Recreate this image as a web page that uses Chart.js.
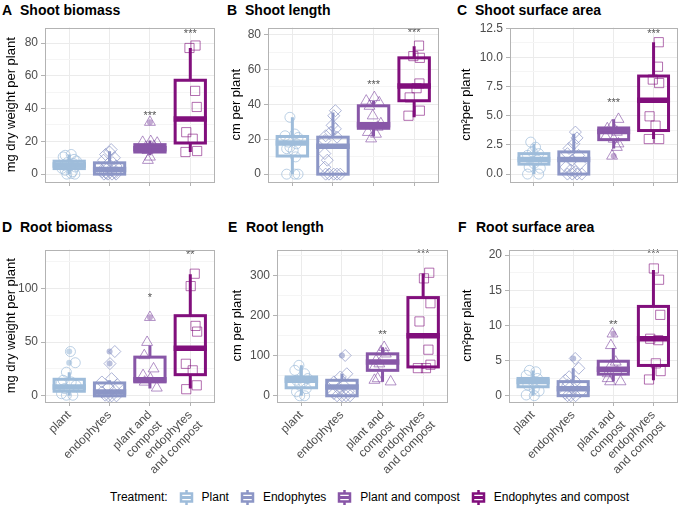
<!DOCTYPE html>
<html>
<head>
<meta charset="utf-8">
<script src="https://cdn.jsdelivr.net/npm/chart.js@4.4.0/dist/chart.umd.min.js"></script>
<style>
body { margin: 0; background: #fff; font-family: "Liberation Sans", Arial, sans-serif; }
#wrap { position: relative; width: 685px; height: 509px; overflow: hidden; }
.panel { position: absolute; }
.tag, .ttl { position: absolute; font-weight: bold; font-size: 14px; line-height: 16px; color: #000; white-space: nowrap; }
#legend { position: absolute; top: 488px; left: 110px; height: 18px; display: flex; align-items: center; font-size: 12px; color: #000; white-space: nowrap; }
#legend .item { display: flex; align-items: center; margin-left: 10px; }
#legend canvas { margin-right: 7px; }
</style>
</head>
<body>
<div id="wrap"></div>
<script>
// treatments
var treatments = ['plant', 'endophytes', 'plant and compost', 'endophytes and compost'];
var tickNames = ['plant', 'endophytes', ['plant and', 'compost'], ['endophytes', 'and compost']];
var legendNames = ['Plant', 'Endophytes', 'Plant and compost', 'Endophytes and compost'];

// A - shoot biomass (mg dry weight per plant)
var shootBiomassVals = [
    [12, 11.5, 10.5, 9, 8, 7, 6.5, 5.5, 5, 4.4, 3.5, 2.4, 1.5, 0.4, 0, 0],
    [15, 13.5, 12, 10, 8.5, 7, 6, 5, 4, 3, 2.5, 1.5, 1, 0.5, 0, 0, 0, 0],
    [31.7, 20, 19.5, 19, 17, 16.5, 14.5, 10.5, 8.5],
    [77, 78.5, 50.8, 41, 25.6, 21.6, 13.5, 14.1]
];
var shootBiomassJit = [
    [0.05, -0.1, -0.15, 0.12, 0.18, -0.05, 0.1, -0.12, 0.02, 0.15, -0.18, -0.1, 0.08, 0.05, -0.06, 0.14],
    [0.04, 0, -0.1, 0.12, -0.15, 0.08, -0.05, 0.16, -0.12, 0.1, 0.02, -0.18, 0.14, -0.08, -0.14, -0.04, 0.06, 0.16],
    [0, 0.02, -0.18, 0.18, 0.1, -0.1, -0.06, 0, -0.05],
    [-0.02, 0.13, 0.12, 0.16, -0.1, 0.06, -0.12, 0.17]
];
var shootBiomassBox = [[0, 3.4, 5.5, 7.9, 12], [0, 0, 2.8, 6.9, 14], [11.5, 13.5, 15.5, 18, 20.5], [13.5, 19, 33.7, 57.3, 77]];
var shootBiomassOut = [[], [], [31.7], []];
var shootBiomassSig = ['', '', '***', '***'];
var shootBiomassSigY = [null, null, 36.5, 87];
var shootBiomassTicks = [0, 20, 40, 60, 80];
var shootBiomassMinor = [10, 30, 50, 70];

// B - shoot length (cm per plant)
var shootLengthVals = [
    [32.6, 22, 23, 21, 18.4, 17.4, 14.6, 13.6, 9.9, 15.5, 0, 0, 0],
    [36.4, 33.5, 28, 26, 24, 22, 21.2, 19.3, 11.8, 8, 4, 0, 0, 0, 0, 0],
    [42, 44, 41, 39, 33.5, 29, 27, 24, 23, 20.3],
    [73.7, 67.7, 66.7, 52, 49.3, 44, 36.4, 33.5]
];
var shootLengthJit = [
    [-0.06, -0.18, 0.06, 0.14, -0.1, 0.1, -0.14, 0.02, 0.08, -0.06, -0.14, 0.06, 0.14],
    [0.06, 0.02, -0.02, 0.06, -0.06, -0.18, 0.1, -0.2, -0.2, -0.14, -0.2, -0.1, 0.02, 0.1, 0.18, -0.18],
    [-0.18, 0.02, 0.14, -0.1, -0.02, 0.18, 0.1, -0.14, 0.06, -0.06],
    [0.12, -0.02, 0.14, 0.13, 0.06, -0.11, 0.14, -0.14]
];
var shootLengthBox = [[0, 10.4, 17.8, 21.6, 32.6], [0, 0, 16, 21.2, 35.4], [21.6, 26.3, 28.4, 39.2, 42], [32.6, 42.1, 50.6, 66.7, 73.4]];
var shootLengthOut = [[], [], [], []];
var shootLengthSig = ['', '', '***', '***'];
var shootLengthSigY = [null, null, 52.5, 82];
var shootLengthTicks = [0, 20, 40, 60, 80];
var shootLengthMinor = [10, 30, 50, 70];

// C - shoot surface area (cm2 per plant)
var shootAreaVals = [
    [2.74, 2.3, 1.9, 1.75, 1.6, 1.2, 0.9, 0.6, 0.5, 0, 0],
    [3.6, 3.1, 2.6, 2.2, 1.75, 1.6, 1.2, 0.9, 0.6, 0.35, 0.2, 0, 0, 0, 0],
    [4.7, 4.15, 3.9, 3.6, 3.2, 3.0, 2.6, 2.3, 1.55],
    [11.3, 9.2, 8.1, 7.8, 4.95, 4.15, 3.0, 3.0]
];
var shootAreaJit = [
    [-0.08, 0.04, -0.04, 0.12, -0.16, 0.08, 0, -0.12, 0.16, -0.16, 0.12],
    [0.04, 0.08, 0, -0.12, -0.16, 0.12, -0.04, 0.16, -0.2, -0.08, 0.04, -0.16, -0.04, 0.08, 0.2],
    [0.12, -0.04, -0.16, 0.08, -0.2, 0, 0.12, 0.08, -0.04],
    [0.13, 0.11, -0.02, 0.14, -0.1, 0.05, -0.12, 0.14]
];
var shootAreaBox = [[0, 0.85, 1.25, 1.75, 2.6], [0, 0, 1.25, 1.9, 3.45], [2.2, 2.95, 3.65, 3.95, 4.7], [3.0, 3.73, 6.33, 8.4, 11.3]];
var shootAreaOut = [[], [], [1.55], []];
var shootAreaSig = ['', '', '***', '***'];
var shootAreaSigY = [null, null, 6.3, 12.2];
var shootAreaTicks = [0, 2.5, 5, 7.5, 10, 12.5];
var shootAreaTickLabels = ['0.0', '2.5', '5.0', '7.5', '10.0', '12.5'];
var shootAreaMinor = [1.25, 3.75, 6.25, 8.75, 11.25];

// D - root biomass
var rootBiomassVals = [
    [41.2, 30.8, 22, 14.5, 12.9, 9.8, 6.8, 2, 0.6, 0.6, 11.4],
    [41.2, 30, 16, 12.9, 10.5, 8.3, 5.2, 3.7, 0.6, 0, 0, 0],
    [73, 49.8, 37.5, 25.2, 19, 16, 12.9, 7.4],
    [113.5, 102, 65, 59.7, 29.8, 23.7, 6.2, 9.8]
];
var rootBiomassJit = [
    [0.03, 0.15, -0.07, -0.15, 0.05, 0.17, -0.11, -0.19, 0.09, -0.07, -0.2],
    [0.13, 0.01, 0.05, -0.19, 0.19, -0.03, 0.13, -0.19, -0.11, 0.05, 0.17, -0.03],
    [0, -0.07, -0.14, 0.09, -0.17, 0.01, -0.13, 0.17],
    [0.11, 0.01, 0.13, 0.17, -0.11, 0.06, -0.1, 0.16]
];
var rootBiomassBox = [[0, 4.3, 8.3, 15.4, 22], [0, 0, 3.7, 12, 14.5], [6.8, 13, 15, 36, 46.8], [6.8, 19.7, 44.3, 74.5, 113]];
var rootBiomassOut = [[30.8, 41.2], [30, 41.2], [73], []];
var rootBiomassSig = ['', '', '*', '**'];
var rootBiomassSigY = [null, null, 93, 133];
var rootBiomassTicks = [0, 50, 100];
var rootBiomassMinor = [25, 75, 125];

// E - root length
var rootLengthVals = [
    [76, 63.5, 55, 43, 38.7, 34.6, 26.4, 18, 10, 0, 0],
    [100.6, 55, 47, 34.6, 26.4, 18, 11.5, 5.8, 0, 0, 0, 0],
    [121, 110, 104.7, 88, 80, 72, 43, 39, 35],
    [307, 293, 231, 185.5, 115, 69, 69, 77.5]
];
var rootLengthJit = [
    [-0.06, -0.16, 0.08, 0.16, -0.12, 0.04, -0.04, 0.12, -0.12, 0.08, -0.04],
    [0.08, 0.12, -0.04, -0.2, 0.04, -0.08, 0.16, -0.2, -0.12, 0, 0.1, 0.2],
    [0.04, -0.04, 0.08, -0.16, -0.08, -0.2, -0.12, -0.2, 0.2],
    [0.15, 0.02, 0.18, -0.09, 0.13, -0.13, 0.07, 0.18]
];
var rootLengthBox = [[0, 20, 38.7, 47, 76], [0, 0, 22, 38.7, 55], [35, 63.5, 84, 104.7, 121], [68, 72, 150, 245, 305]];
var rootLengthOut = [[], [100.6], [], []];
var rootLengthSig = ['', '', '**', '***'];
var rootLengthSigY = [null, null, 157, 358];
var rootLengthTicks = [0, 100, 200, 300];
var rootLengthMinor = [50, 150, 250, 350];

// F - root surface area
var rootAreaVals = [
    [3.6, 3.4, 2.9, 2.45, 2.0, 1.5, 1.0, 0.66, 0.1, 0],
    [5.3, 3.9, 2.7, 2.2, 2.0, 1.5, 1.0, 0.56, 0.33, 0, 0, 0],
    [8.8, 7.15, 4.8, 4.3, 3.15, 3.4, 2.45, 2.0, 2.0],
    [18.1, 16.5, 11.5, 8.1, 7.9, 4.6, 3.5, 2.3]
];
var rootAreaJit = [
    [-0.09, 0.07, -0.17, 0.11, 0, -0.13, 0.03, 0.15, -0.17, 0.03],
    [0.05, 0.14, -0.1, -0.2, 0.06, -0.14, 0.02, 0.18, -0.2, -0.06, 0.06, -0.14],
    [-0.02, -0.06, 0.06, -0.06, -0.14, 0.1, -0.14, 0.18, -0.08],
    [0.01, 0.14, 0.17, -0.08, 0.12, 0.06, 0.18, -0.11]
];
var rootAreaBox = [[0, 1.27, 2.0, 2.45, 3.6], [0, 0, 1.0, 2.0, 3.9], [2.0, 3.06, 3.76, 4.9, 6.8], [2.2, 4.3, 8.1, 12.7, 17.9]];
var rootAreaOut = [[], [5.3], [8.8], []];
var rootAreaSig = ['', '', '**', '***'];
var rootAreaSigY = [null, null, 10.4, 20.5];
var rootAreaTicks = [0, 5, 10, 15, 20];
var rootAreaMinor = [2.5, 7.5, 12.5, 17.5];

// styling
var colors = ['#9ebcda', '#8c96c6', '#8856a7', '#810f7c'];
var pointAlpha = ['rgba(158,188,218,0.7)', 'rgba(140,150,198,0.7)', 'rgba(136,86,167,0.65)', 'rgba(129,15,124,0.6)'];
var outAlpha = ['rgba(158,188,218,0.6)', 'rgba(140,150,198,0.6)', 'rgba(136,86,167,0.5)', 'rgba(129,15,124,0.5)'];
var shapes = ['circle', 'rectRot', 'triangle', 'rect'];
var radii = [5, 6, 6.3, 6.5];

var panels = [
    {tag: 'A', title: 'Shoot biomass', yTitle: 'mg dry weight per plant', vals: shootBiomassVals, jit: shootBiomassJit, box: shootBiomassBox, out: shootBiomassOut, sig: shootBiomassSig, sigY: shootBiomassSigY, ticks: shootBiomassTicks, minor: shootBiomassMinor, min: -4.8, max: 89.5, left: 0, top: 20, w: 222, h: 170, yw: 45, xh: 8, bottom: false},
    {tag: 'B', title: 'Shoot length', yTitle: 'cm per plant', vals: shootLengthVals, jit: shootLengthJit, box: shootLengthBox, out: shootLengthOut, sig: shootLengthSig, sigY: shootLengthSigY, ticks: shootLengthTicks, minor: shootLengthMinor, min: -4.5, max: 84.1, left: 225, top: 20, w: 221, h: 170, yw: 43, xh: 8, bottom: false},
    {tag: 'C', title: 'Shoot surface area', yTitle: 'cm\u00b2per plant', vals: shootAreaVals, jit: shootAreaJit, box: shootAreaBox, out: shootAreaOut, sig: shootAreaSig, sigY: shootAreaSigY, ticks: shootAreaTicks, labels: shootAreaTickLabels, minor: shootAreaMinor, min: -0.68, max: 12.56, left: 455, top: 20, w: 230, h: 170, yw: 55, xh: 8, bottom: false},
    {tag: 'D', title: 'Root biomass', yTitle: 'mg dry weight per plant', vals: rootBiomassVals, jit: rootBiomassJit, box: rootBiomassBox, out: rootBiomassOut, sig: rootBiomassSig, sigY: rootBiomassSigY, ticks: rootBiomassTicks, minor: rootBiomassMinor, min: -5.7, max: 136, left: 0, top: 242, w: 222, h: 240, yw: 45, xh: 80, bottom: true},
    {tag: 'E', title: 'Root length', yTitle: 'cm per plant', vals: rootLengthVals, jit: rootLengthJit, box: rootLengthBox, out: rootLengthOut, sig: rootLengthSig, sigY: rootLengthSigY, ticks: rootLengthTicks, minor: rootLengthMinor, min: -15.5, max: 365, left: 226, top: 242, w: 229, h: 240, yw: 51, xh: 80, bottom: true},
    {tag: 'F', title: 'Root surface area', yTitle: 'cm\u00b2per plant', vals: rootAreaVals, jit: rootAreaJit, box: rootAreaBox, out: rootAreaOut, sig: rootAreaSig, sigY: rootAreaSigY, ticks: rootAreaTicks, minor: rootAreaMinor, min: -0.9, max: 20.8, left: 456, top: 242, w: 229, h: 240, yw: 53, xh: 80, bottom: true}
];

var wrap = document.getElementById('wrap');

// boxplots under the points, stars and panel border above
function boxPlugin(p) {
    return {
        id: 'boxes' + p.tag,
        beforeDatasetsDraw: function (chart) {
            var ctx = chart.ctx, x = chart.scales.x, y = chart.scales.y, a = chart.chartArea;
            ctx.save();
            ctx.beginPath();
            ctx.rect(a.left, a.top, a.right - a.left, a.bottom - a.top);
            ctx.clip();
            p.box.forEach(function (b, g) {
                var cx = x.getPixelForValue(g + 1);
                var x0 = x.getPixelForValue(g + 1 - 0.375), x1 = x.getPixelForValue(g + 1 + 0.375);
                var yLo = y.getPixelForValue(b[0]), yQ1 = y.getPixelForValue(b[1]);
                var yMed = y.getPixelForValue(b[2]), yQ3 = y.getPixelForValue(b[3]), yHi = y.getPixelForValue(b[4]);
                ctx.strokeStyle = colors[g];
                ctx.lineWidth = 3;
                ctx.beginPath();
                ctx.moveTo(cx, yQ3); ctx.lineTo(cx, yHi);
                ctx.moveTo(cx, yQ1); ctx.lineTo(cx, yLo);
                ctx.stroke();
                ctx.strokeRect(x0, yQ3, x1 - x0, yQ1 - yQ3);
                ctx.lineWidth = 5.5;
                ctx.beginPath();
                ctx.moveTo(x0 - 1.5, yMed); ctx.lineTo(x1 + 1.5, yMed);
                ctx.stroke();
            });
            ctx.restore();
        },
        afterDatasetsDraw: function (chart) {
            var ctx = chart.ctx, x = chart.scales.x, y = chart.scales.y;
            ctx.save();
            ctx.fillStyle = '#555';
            ctx.font = '11px "Liberation Sans", Arial, sans-serif';
            ctx.textAlign = 'center';
            ctx.textBaseline = 'middle';
            p.sig.forEach(function (s, g) {
                if (s) ctx.fillText(s, x.getPixelForValue(g + 1), y.getPixelForValue(p.sigY[g]) + 2);
            });
            ctx.restore();
        },
        afterDraw: function (chart) {
            var ctx = chart.ctx, a = chart.chartArea;
            ctx.save();
            ctx.strokeStyle = '#b3b3b3';
            ctx.lineWidth = 1;
            ctx.strokeRect(Math.round(a.left) + 0.5, Math.round(a.top) + 0.5, Math.round(a.right - a.left) - 1, Math.round(a.bottom - a.top) - 1);
            ctx.restore();
        }
    };
}

panels.forEach(function (p) {
    var div = document.createElement('div');
    div.className = 'panel';
    div.style.left = p.left + 'px';
    div.style.top = p.top + 'px';
    var canvas = document.createElement('canvas');
    canvas.width = p.w;
    canvas.height = p.h;
    div.appendChild(canvas);
    wrap.appendChild(div);

    // panel tag and title
    var titleTop = p.bottom ? p.top - 23 : p.top - 18;
    var tag = document.createElement('div');
    tag.className = 'tag';
    tag.textContent = p.tag;
    tag.style.left = (p.left + 2) + 'px';
    tag.style.top = titleTop + 'px';
    wrap.appendChild(tag);
    var ttl = document.createElement('div');
    ttl.className = 'ttl';
    ttl.textContent = p.title;
    ttl.style.left = (p.left + 20) + 'px';
    ttl.style.top = titleTop + 'px';
    wrap.appendChild(ttl);

    var datasets = [];
    p.vals.forEach(function (vals, g) {
        datasets.push({
            type: 'scatter',
            data: vals.map(function (v, i) { return {x: g + 1 + p.jit[g][i], y: v}; }),
            pointStyle: shapes[g],
            pointRadius: radii[g],
            pointBorderWidth: 1,
            pointBorderColor: pointAlpha[g],
            pointBackgroundColor: 'rgba(0,0,0,0)'
        });
        datasets.push({
            type: 'scatter',
            data: p.out[g].map(function (v) { return {x: g + 1, y: v}; }),
            pointStyle: 'circle',
            pointRadius: 3,
            pointBorderWidth: 0,
            pointBackgroundColor: outAlpha[g]
        });
    });

    var allY = p.ticks.concat(p.minor).sort(function (a, b) { return a - b; });

    new Chart(canvas, {
        type: 'scatter',
        data: {datasets: datasets},
        options: {
            responsive: false,
            animation: false,
            events: [],
            layout: {padding: {top: 6, right: p.w - (p.yw + 174 + (p.tag === 'E' || p.tag === 'B' ? 1 : 0)), bottom: 0, left: 0}},
            plugins: {legend: {display: false}, tooltip: {enabled: false}},
            scales: {
                x: {
                    type: 'linear',
                    min: 0.4,
                    max: 4.6,
                    afterBuildTicks: function (s) { s.ticks = [1, 2, 3, 4].map(function (v) { return {value: v}; }); },
                    afterFit: function (s) { s.height = p.xh; s.paddingLeft = 0; s.paddingRight = 0; },
                    border: {display: false},
                    grid: {color: '#ebebeb', lineWidth: 1, tickColor: '#b3b3b3', tickLength: 4},
                    ticks: {
                        display: p.bottom,
                        autoSkip: false,
                        minRotation: 45,
                        maxRotation: 45,
                        padding: 2,
                        color: '#4d4d4d',
                        font: {size: 12, family: '"Liberation Sans", Arial, sans-serif'},
                        callback: function (v, i) { return tickNames[i]; }
                    }
                },
                y: {
                    type: 'linear',
                    min: p.min,
                    max: p.max,
                    afterBuildTicks: function (s) { s.ticks = allY.map(function (v) { return {value: v}; }); },
                    afterFit: function (s) { s.width = p.yw; s.paddingTop = 0; s.paddingBottom = 0; },
                    border: {display: false},
                    grid: {
                        color: function (c) { return c.tick && p.ticks.indexOf(c.tick.value) >= 0 ? '#ebebeb' : '#f5f5f5'; },
                        tickColor: function (c) { return c.tick && p.ticks.indexOf(c.tick.value) >= 0 ? '#b3b3b3' : 'rgba(0,0,0,0)'; },
                        lineWidth: 1,
                        tickLength: 4
                    },
                    ticks: {
                        autoSkip: false,
                        padding: 3,
                        color: '#4d4d4d',
                        font: {size: 12, family: '"Liberation Sans", Arial, sans-serif'},
                        callback: function (v) {
                            var k = p.ticks.indexOf(v);
                            if (k < 0) return '';
                            return p.labels ? p.labels[k] : String(v);
                        }
                    },
                    title: {
                        display: true,
                        text: p.yTitle,
                        color: '#000',
                        font: {size: 13, family: '"Liberation Sans", Arial, sans-serif'},
                        padding: {top: 4, bottom: 0}
                    }
                }
            }
        },
        plugins: [boxPlugin(p)]
    });
});

// legend
var legend = document.createElement('div');
legend.id = 'legend';
var lab = document.createElement('span');
lab.textContent = 'Treatment:';
legend.appendChild(lab);
legendNames.forEach(function (name, g) {
    var item = document.createElement('div');
    item.className = 'item';
    var key = document.createElement('canvas');
    key.width = 17;
    key.height = 17;
    var k = key.getContext('2d');
    k.strokeStyle = colors[g];
    k.lineWidth = 2.5;
    k.beginPath();
    k.moveTo(8.5, 1); k.lineTo(8.5, 4.5);
    k.moveTo(8.5, 12.5); k.lineTo(8.5, 16);
    k.stroke();
    k.strokeRect(3, 4.5, 11, 8);
    k.lineWidth = 3;
    k.beginPath();
    k.moveTo(2, 8.5); k.lineTo(15, 8.5);
    k.stroke();
    item.appendChild(key);
    var t = document.createElement('span');
    t.textContent = name;
    item.appendChild(t);
    legend.appendChild(item);
});
wrap.appendChild(legend);
</script>
</body>
</html>
